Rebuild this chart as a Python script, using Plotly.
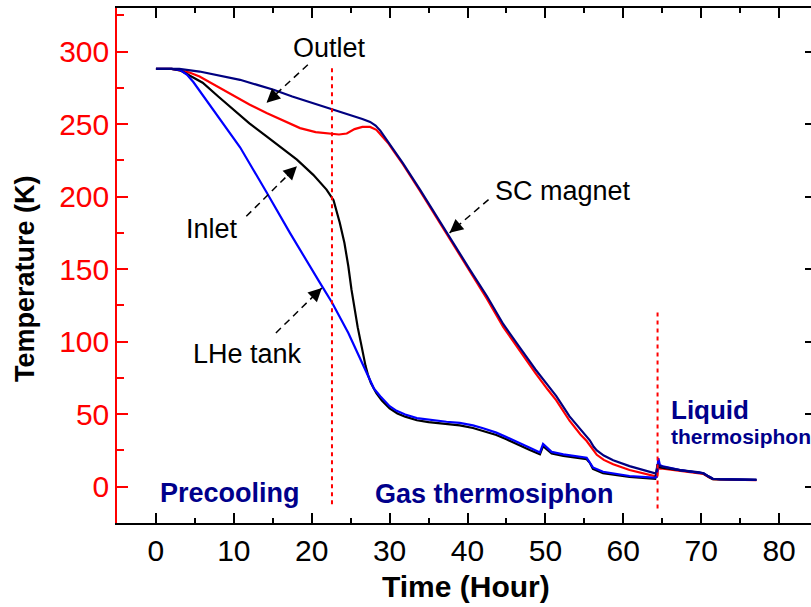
import plotly.graph_objects as go

# Cool-down history of the cryogenic system (time in hours, temperature in K)
t_magnet = [0, 3, 5.6, 8, 10.8, 13, 15.1, 17.5, 20.2, 22.6, 24.9, 26.5, 27.5, 28.2, 28.8,
            29.4, 30, 31, 31.7, 33.9, 36, 38.2, 40.3, 42.5, 44.6, 46.7, 48.7, 50.3, 51.4,
            53.1, 54.5, 55.3, 55.7, 56.2, 56.6, 57.5, 58.7, 60.8, 63, 64.2, 64.4, 64.6,
            65.1, 67.3, 69.8, 70.3, 71, 71.5, 72.4, 75, 77.1]
T_magnet = [288, 288, 286.2, 283.5, 280.5, 277, 273.6, 269, 264.5, 260.5, 256.4, 253.5,
            251.5, 249, 245.5, 241, 236, 228.5, 223, 204.8, 186.4, 168, 149.7, 131.3, 112,
            96, 81, 70, 62.5, 48.5, 39.5, 35, 32, 27.5, 25, 21.5, 18.3, 14.2, 10.7, 9,
            15.5, 14.5, 13.8, 11.5, 10, 9.3, 7, 5.5, 5.2, 5, 4.8]

t_outlet = [0, 2, 3.1, 4.3, 5.6, 7.5, 9.9, 12, 14.2, 16.5, 18.5, 20.5, 22.6, 23.5, 24.5,
            25.5, 26.5, 27.5, 28.3, 29, 29.8, 30.5, 31.7, 33.9, 36, 38.2, 40.3, 42.5, 44.6,
            46.7, 48.7, 50.3, 51.4, 53.1, 54.5, 55.3, 55.7, 56.2, 56.6, 57.5, 58.7, 60.8,
            63, 64.3, 64.5, 64.7, 65.1, 67.3, 69.8, 70.3, 71, 71.5, 72.4, 75, 77.1]
T_outlet = [288, 288, 287, 285.5, 282.8, 277, 270, 263.5, 257.6, 252, 247.2, 244.5, 243.3,
            242.8, 243.5, 246.5, 248, 248, 246, 242, 237, 231.5, 222.3, 204, 185.6, 167.2,
            148, 129.5, 110, 93.5, 78.5, 67, 59.5, 45.5, 36, 31.5, 28.5, 24.5, 22, 18.5,
            15.5, 11.5, 8.5, 7, 13, 12.5, 12.5, 11, 9.5, 8.8, 6.5, 5.2, 5, 4.8, 4.6]

t_inlet = [0, 2, 3.1, 4.5, 6, 8, 10, 12, 14.2, 16, 18.1, 20.2, 21.2, 21.9, 22.8, 23.6,
           24.2, 24.7, 25.1, 25.5, 25.9, 26.3, 26.6, 26.9, 27.2, 27.6, 28.3, 29, 30, 31,
           32, 33.5, 35, 37.3, 39, 40.7, 42, 43.7, 45, 46.3, 48, 49.3, 49.7, 50.8, 52.3,
           55.3, 55.7, 56.1, 57.4, 60.8, 63.4, 64.1, 64.4, 64.7, 65.1, 67.3, 69.8, 70.3,
           71, 71.5, 72.4, 75, 77.1]
T_inlet = [288, 288, 287, 283, 278.5, 269, 259.5, 250.5, 241.5, 234, 225.5, 215, 209,
           204.8, 197.5, 182, 168, 152, 136, 122, 110, 99.5, 91, 83.5, 77.5, 71.5, 64.5,
           59.5, 54, 50.5, 48.3, 45.8, 44.5, 43.2, 42.3, 40.5, 38.5, 35.7, 32.7, 29.3,
           25.3, 22.3, 28, 23, 21.3, 19, 16.5, 12.3, 9.3, 6.7, 5.6, 5.4, 14.5, 13.5, 13,
           11.3, 9.7, 9.1, 6.7, 5.3, 5.1, 4.9, 4.7]

t_tank = [0, 2, 3.1, 4, 4.8, 6, 7.8, 10.8, 14.2, 17.2, 21, 22.6, 24.7, 26.4, 27, 27.5, 28,
          28.8, 30, 30.9, 32, 33.5, 35, 37.3, 39, 40.7, 42, 43.7, 45, 46.3, 48, 49.3, 49.7,
          50.8, 52.3, 55.3, 55.7, 56.1, 57.4, 60.8, 63.4, 64.1, 64.3, 64.5, 64.7, 65.1,
          67.3, 69.8, 70.3, 71, 71.5, 72.4, 75, 77.1]
T_tank = [288, 288, 287.4, 284, 279, 270, 257, 234, 203, 175, 141, 127, 106, 86, 79, 73,
          67.5, 62.4, 55.5, 52.3, 49.8, 47.3, 46.2, 44.8, 44, 42.3, 40.3, 37.3, 34.2, 30.8,
          26.8, 23.6, 29.5, 24, 22.3, 20, 17, 13.3, 10.3, 7.4, 6.4, 6.2, 7, 19.7, 15, 14,
          11.5, 9.9, 9.3, 7, 5.5, 5.2, 5, 4.8]

# Phase boundaries (hours) and the vertical extent of their markers (K)
phase_t = [22.6, 64.4]
phase_top = [291, 121]
phase_bottom = [-12, -15]

# Curve labels: text, label position, arrow tail, arrow tip
labels = ["Outlet", "Inlet", "SC magnet", "LHe tank"]
label_t = [22.3, 7.2, 52.2, 11.7]
label_T = [302.5, 177.9, 204, 91.2]
tail_t = [19.5, 11.6, 42.7, 15.4]
tail_T = [290.9, 186.4, 197.9, 106]
tip_t = [14.2, 18.1, 37.7, 21.3]
tip_T = [264.7, 221, 175, 137]

FONT = "Liberation Sans, Arial, sans-serif"
NAVY = "#00008B"

fig = go.Figure()

series = [
    (t_outlet, T_outlet, "#FF0000", "Outlet"),
    (t_inlet, T_inlet, "#000000", "Inlet"),
    (t_tank, T_tank, "#0000FF", "LHe tank"),
    (t_magnet, T_magnet, "#000080", "SC magnet"),
]
for tx, ty, col, nm in series:
    fig.add_trace(go.Scatter(x=tx, y=ty, mode="lines", name=nm,
                             line=dict(color=col, width=2.2), showlegend=False))

# Red dashed markers separating the cooling phases
for pt, top, bot in zip(phase_t, phase_top, phase_bottom):
    fig.add_trace(go.Scatter(x=[pt, pt], y=[bot, top], mode="lines", showlegend=False,
                             line=dict(color="#FF0000", width=2, dash="4px,4px")))

annotations = []
for txt, lx, ly, ax0, ay0, hx, hy in zip(labels, label_t, label_T, tail_t, tail_T, tip_t, tip_T):
    # dashed leader from the label toward the curve
    fig.add_trace(go.Scatter(x=[ax0, hx], y=[ay0, hy], mode="lines", showlegend=False,
                             line=dict(color="black", width=1.5, dash="7px,5px")))
    # filled arrowhead at the curve end
    bx = hx + 0.22 * (ax0 - hx)
    by = hy + 0.22 * (ay0 - hy)
    annotations.append(dict(x=hx, y=hy, ax=bx, ay=by, xref="x", yref="y", axref="x", ayref="y",
                            text="", showarrow=True, arrowhead=2, arrowsize=1.8,
                            arrowwidth=1.5, arrowcolor="black", standoff=0))
    annotations.append(dict(x=lx, y=ly, xref="x", yref="y", text=txt, showarrow=False,
                            font=dict(family=FONT, size=27, color="black")))

# Phase names
annotations += [
    dict(x=9.5, y=-4, xref="x", yref="y", text="<b>Precooling</b>", showarrow=False,
         font=dict(family=FONT, size=27, color=NAVY)),
    dict(x=43.5, y=-5, xref="x", yref="y", text="<b>Gas thermosiphon</b>", showarrow=False,
         font=dict(family=FONT, size=27, color=NAVY)),
    dict(x=65.9, y=53, xref="x", yref="y", text="<b>Liquid</b>", showarrow=False,
         xanchor="left", font=dict(family=FONT, size=26, color=NAVY)),
    dict(x=65.9, y=34.6, xref="x", yref="y", text="<b>thermosiphon</b>", showarrow=False,
         xanchor="left", font=dict(family=FONT, size=21, color=NAVY)),
]

L, R, T, B = 117, 0, 8, 84
W, H = 811, 607

# Axis titles, placed by pixel position on the page
title_specs = [
    ("<b>Temperature (K)</b>", 25, 279, -90, 27),
    ("<b>Time (Hour)</b>", 466, 586, 0, 30),
]
for txt, px, py, ang, size in title_specs:
    annotations.append(dict(x=(px - L) / (W - L - R), y=(H - py - B) / (H - T - B),
                            xref="paper", yref="paper", xanchor="center", yanchor="middle",
                            text=txt, showarrow=False, textangle=ang,
                            font=dict(family=FONT, size=size, color="black")))

fig.update_layout(
    width=W, height=H,
    margin=dict(l=L, r=R, t=T, b=B),
    plot_bgcolor="white", paper_bgcolor="white",
    annotations=annotations,
    xaxis=dict(range=[-5, 84.1], dtick=10, tick0=0, showgrid=False, zeroline=False,
               showline=True, linecolor="black", linewidth=1.5, mirror="ticks",
               ticks="inside", ticklen=10, tickwidth=1.5, tickcolor="black",
               minor=dict(dtick=5, ticks="inside", ticklen=5, tickwidth=1.5, tickcolor="black"),
               tickfont=dict(family=FONT, size=30, color="black")),
    yaxis=dict(range=[-25, 330], dtick=50, tick0=0, showgrid=False, zeroline=False,
               showline=True, linecolor="#FF0000", linewidth=1.5,
               ticks="inside", ticklen=11, tickwidth=1.5, tickcolor="#FF0000",
               minor=dict(dtick=25, ticks="inside", ticklen=7, tickwidth=1.5,
                          tickcolor="#FF0000"),
               tickfont=dict(family=FONT, size=30, color="#FF0000")),
    yaxis2=dict(range=[-25, 330], dtick=50, tick0=0, overlaying="y", side="right",
                showgrid=False, zeroline=False, showline=True, linecolor="black",
                linewidth=1.5, ticks="inside", ticklen=6, tickwidth=1.5,
                tickcolor="black", showticklabels=False),
)

# invisible trace so the right-hand axis is drawn
fig.add_trace(go.Scatter(x=[0], y=[0], yaxis="y2", mode="markers",
                         marker=dict(opacity=0), showlegend=False, hoverinfo="skip"))

fig.write_html("out.html")
